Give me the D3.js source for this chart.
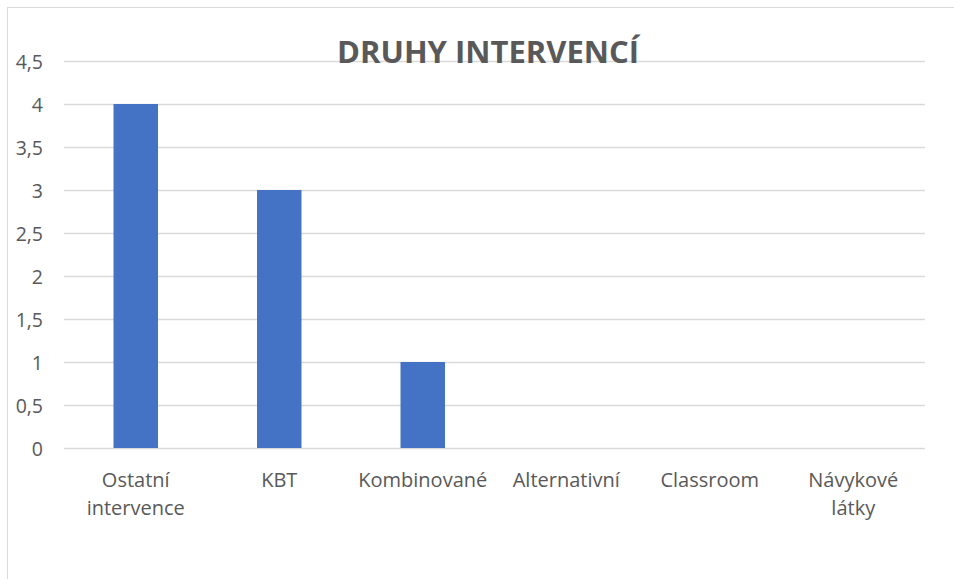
<!DOCTYPE html>
<html><head><meta charset="utf-8">
<script src="https://cdn.jsdelivr.net/npm/d3@7"></script>
<style>html,body{margin:0;padding:0;background:#fff;}svg{display:block;}</style>
</head><body>
<svg id="c" width="954" height="579"></svg>
<script>
const categories = ["Ostatní intervence","KBT","Kombinované","Alternativní","Classroom","Návykové látky"];
const values = [4,3,1,0,0,0];
const yTicks = [0,0.5,1,1.5,2,2.5,3,3.5,4,4.5];
const chartTitle = "DRUHY INTERVENCÍ";

(function(){
const svg = d3.select("#c");
const font = "'Open Sans', 'Segoe UI', sans-serif";
svg.append("rect").attr("x",7.5).attr("y",7.5).attr("width",1000).attr("height",1000)
  .attr("fill","#fff").attr("stroke","#d9d9d9");

const pL = 64, pR = 925, pT = 61, pB = 448;
const x = d3.scaleBand().domain(categories).range([pL,pR]).paddingInner(0.69).paddingOuter(0.345);
const y = d3.scaleLinear().domain([0,4.5]).range([pB,pT]);
const fmt = d => String(d).replace(".", ",");

const ya = svg.append("g").attr("transform",`translate(${pL},0)`)
  .call(d3.axisLeft(y).tickValues(yTicks).tickSize(-(pR-pL)).tickFormat(fmt).tickPadding(21));
ya.select(".domain").remove();
ya.selectAll(".tick line").attr("stroke","#d9d9d9").attr("stroke-width",1.3);
ya.selectAll(".tick text").attr("fill","#595959").attr("dy","0.36em").style("font-family",font).style("font-size","19.5px");

svg.append("g").selectAll("rect").data(categories).join("rect")
  .attr("x",d=>x(d)).attr("width",x.bandwidth())
  .attr("y",(d,i)=>y(values[i])).attr("height",(d,i)=>y(0)-y(values[i]))
  .attr("fill","#4472c4");

const xa = svg.append("g").attr("transform",`translate(0,${pB})`)
  .call(d3.axisBottom(x).tickSize(0).tickPadding(0).tickFormat(""));
xa.select(".domain").remove();
xa.selectAll(".tick").each(function(d){
  const g = d3.select(this);
  const words = ["Ostatní intervence","Návykové látky"].includes(d) ? d.split(" ") : [d];
  const t = g.append("text").attr("fill","#595959").attr("text-anchor","middle")
    .style("font-family",font).style("font-size","20px");
  words.forEach((w,i)=>t.append("tspan").attr("x",0).attr("y",39+i*28).text(w));
});

svg.append("text").attr("x",488).attr("y",63).attr("text-anchor","middle")
  .attr("fill","#595959").style("font-family",font).style("font-weight","bold")
  .style("font-size","31px").text(chartTitle);
})();
</script>
</body></html>
